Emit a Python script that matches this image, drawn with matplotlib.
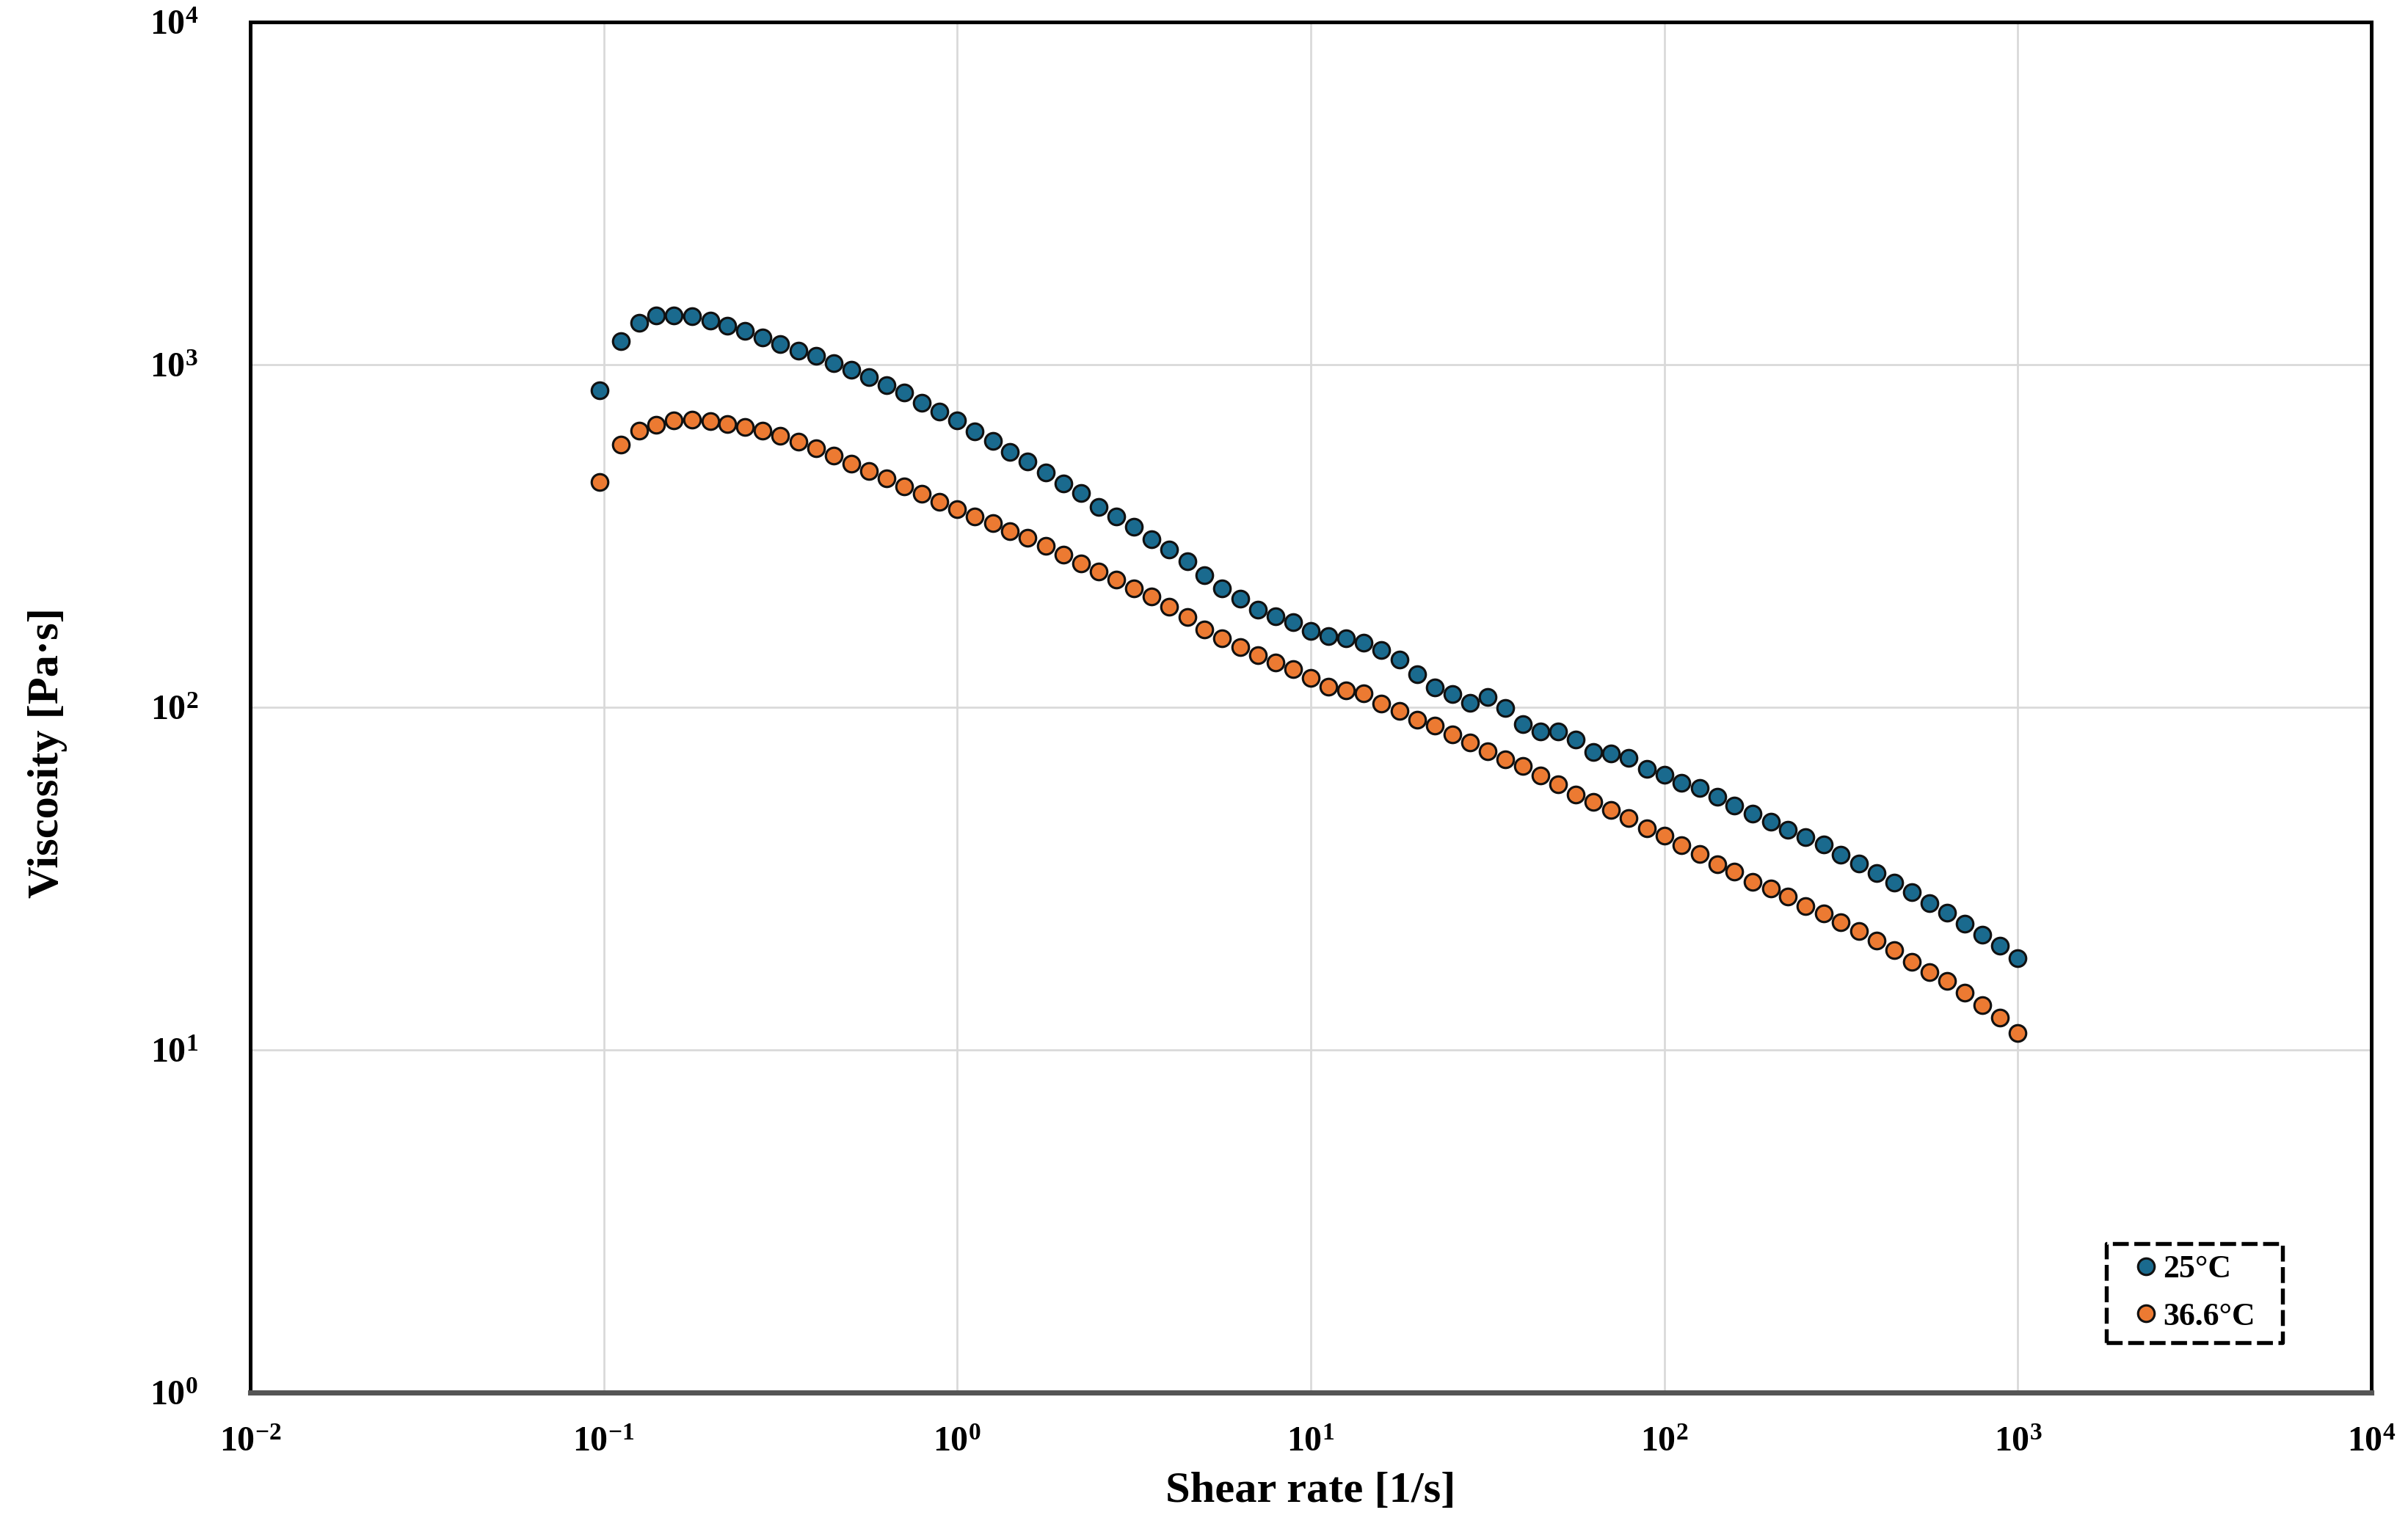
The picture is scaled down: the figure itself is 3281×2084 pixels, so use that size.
import math
import matplotlib
matplotlib.use('Agg')
import matplotlib.pyplot as plt
from matplotlib.patches import Rectangle
from matplotlib.ticker import FixedLocator, FuncFormatter, NullLocator

# шрифты как в исходнике (Times -> Liberation Serif)
plt.rcParams['font.family'] = ['Liberation Serif', 'DejaVu Serif']
plt.rcParams['font.weight'] = 'bold'
plt.rcParams['mathtext.fontset'] = 'custom'
plt.rcParams['mathtext.rm'] = 'Liberation Serif:bold'
plt.rcParams['mathtext.bf'] = 'Liberation Serif:bold'
plt.rcParams['mathtext.default'] = 'bf'

# данные: скорость сдвига [1/s]
shear_rate = [0.0972, 0.112, 0.126, 0.141, 0.158, 0.178, 0.2, 0.224, 0.251, 0.282,
              0.316, 0.355, 0.398, 0.447, 0.501, 0.562, 0.631, 0.708, 0.794, 0.891,
              1.0, 1.12, 1.26, 1.41, 1.58, 1.78, 2.0, 2.24, 2.51, 2.82,
              3.16, 3.55, 3.98, 4.47, 5.01, 5.62, 6.31, 7.08, 7.94, 8.91,
              10.0, 11.2, 12.6, 14.1, 15.8, 17.8, 20.0, 22.4, 25.1, 28.2,
              31.6, 35.5, 39.8, 44.7, 50.1, 56.2, 63.1, 70.8, 79.4, 89.1,
              100.0, 112.0, 126.0, 141.0, 158.0, 178.0, 200.0, 224.0, 251.0, 282.0,
              316.0, 355.0, 398.0, 447.0, 501.0, 562.0, 631.0, 708.0, 794.0, 891.0,
              1000.0]

# вязкость при 25°C [Pa·s]
visc_25 = [840, 1169, 1327, 1389, 1393, 1386, 1342, 1300, 1254, 1202,
           1148, 1100, 1061, 1008, 966, 918, 873, 830, 775, 728,
           688, 639, 598, 557, 522, 485, 450, 421, 385, 361,
           337, 309, 289, 267, 243, 222, 207, 193, 184, 177,
           167, 161, 159, 154, 147, 137.5, 125, 114, 109, 103,
           107, 99.3, 89.4, 85, 85.1, 80.4, 74, 73.3, 71, 66.2,
           63.5, 60.2, 58.2, 54.9, 51.6, 48.9, 46.3, 43.9, 41.7, 39.7,
           37.1, 34.9, 32.8, 30.8, 28.9, 26.8, 25.1, 23.3, 21.7, 20.1,
           18.5]

# вязкость при 36.6°C [Pa·s]
visc_36 = [454, 585, 642, 668, 687, 690, 685, 671, 658, 640,
           621, 595, 569, 543, 514, 489, 465, 441, 420, 397,
           379, 361, 344, 327, 313, 296, 279, 263, 249, 236,
           222, 210, 196, 183, 169, 159, 150, 142, 135, 129,
           122, 115, 112, 110, 102.7, 97.4, 91.9, 88.2, 83.3, 78.9,
           74.3, 70.3, 67.5, 63.3, 59.7, 55.7, 52.8, 50.2, 47.4, 44.4,
           42.1, 39.5, 37.2, 34.8, 33.2, 30.9, 29.6, 28.0, 26.3, 25.0,
           23.6, 22.2, 20.8, 19.5, 18.1, 16.9, 15.9, 14.7, 13.5, 12.4,
           11.2]

labels = ['25°C', '36.6°C']
colors = ['#1a6a8e', '#ec7a32']

x_ticks = [1e-2, 1e-1, 1e0, 1e1, 1e2, 1e3, 1e4]
y_ticks = [1e0, 1e1, 1e2, 1e3, 1e4]

fig = plt.figure(figsize=(3281 / 300, 2084 / 300), dpi=300)
ax = fig.add_axes([0.1039, 0.0893, 0.8809, 0.8963])

for yv, lab, col in zip([visc_25, visc_36], labels, colors):
    ax.plot(shear_rate, yv, linestyle='none', marker='o', markersize=5.4,
            markerfacecolor=col, markeredgecolor='#111111', markeredgewidth=0.75,
            label=lab, zorder=3)

ax.set_xscale('log')
ax.set_yscale('log')
ax.set_xlim(1e-2, 1e4)
ax.set_ylim(1e0, 1e4)

ax.xaxis.set_major_locator(FixedLocator(x_ticks))
ax.yaxis.set_major_locator(FixedLocator(y_ticks))
ax.xaxis.set_minor_locator(NullLocator())
ax.yaxis.set_minor_locator(NullLocator())
fmt = FuncFormatter(lambda v, p: r'$10^{%d}$' % round(math.log10(v)))
ax.xaxis.set_major_formatter(fmt)
ax.yaxis.set_major_formatter(fmt)

ax.tick_params(axis='x', length=0, pad=11, labelsize=11.5)
ax.tick_params(axis='y', length=0, pad=17, labelsize=11.5)

ax.grid(True, which='major', color='#d9d9d9', linewidth=0.65, zorder=0)
ax.set_axisbelow(True)

for side in ['left', 'top', 'right']:
    ax.spines[side].set_color('black')
    ax.spines[side].set_linewidth(1.2)
ax.spines['bottom'].set_color('#555555')
ax.spines['bottom'].set_linewidth(1.7)

ax.set_xlabel('Shear rate [1/s]', fontsize=14.5, fontweight='bold')
ax.set_ylabel('Viscosity [Pa·s]', fontsize=14.5, fontweight='bold')
ax.xaxis.set_label_coords(0.5, -0.058)
ax.yaxis.set_label_coords(-0.086, 0.467)

# легенда без рамки + отдельная пунктирная рамка
leg = ax.legend(loc='center left', bbox_to_anchor=(0.886, 0.0725), borderaxespad=0,
                fontsize=10.5, frameon=False, handletextpad=0.05,
                handlelength=1.0, borderpad=0, labelspacing=0.55)
box = Rectangle((0.875, 0.0364), 0.083, 0.0723, transform=ax.transAxes,
                fill=False, edgecolor='black', linewidth=1.3,
                linestyle=(0, (4, 1.4)), joinstyle='round', zorder=5)
ax.add_patch(box)

plt.savefig('out.png', dpi=300)
plt.close()
